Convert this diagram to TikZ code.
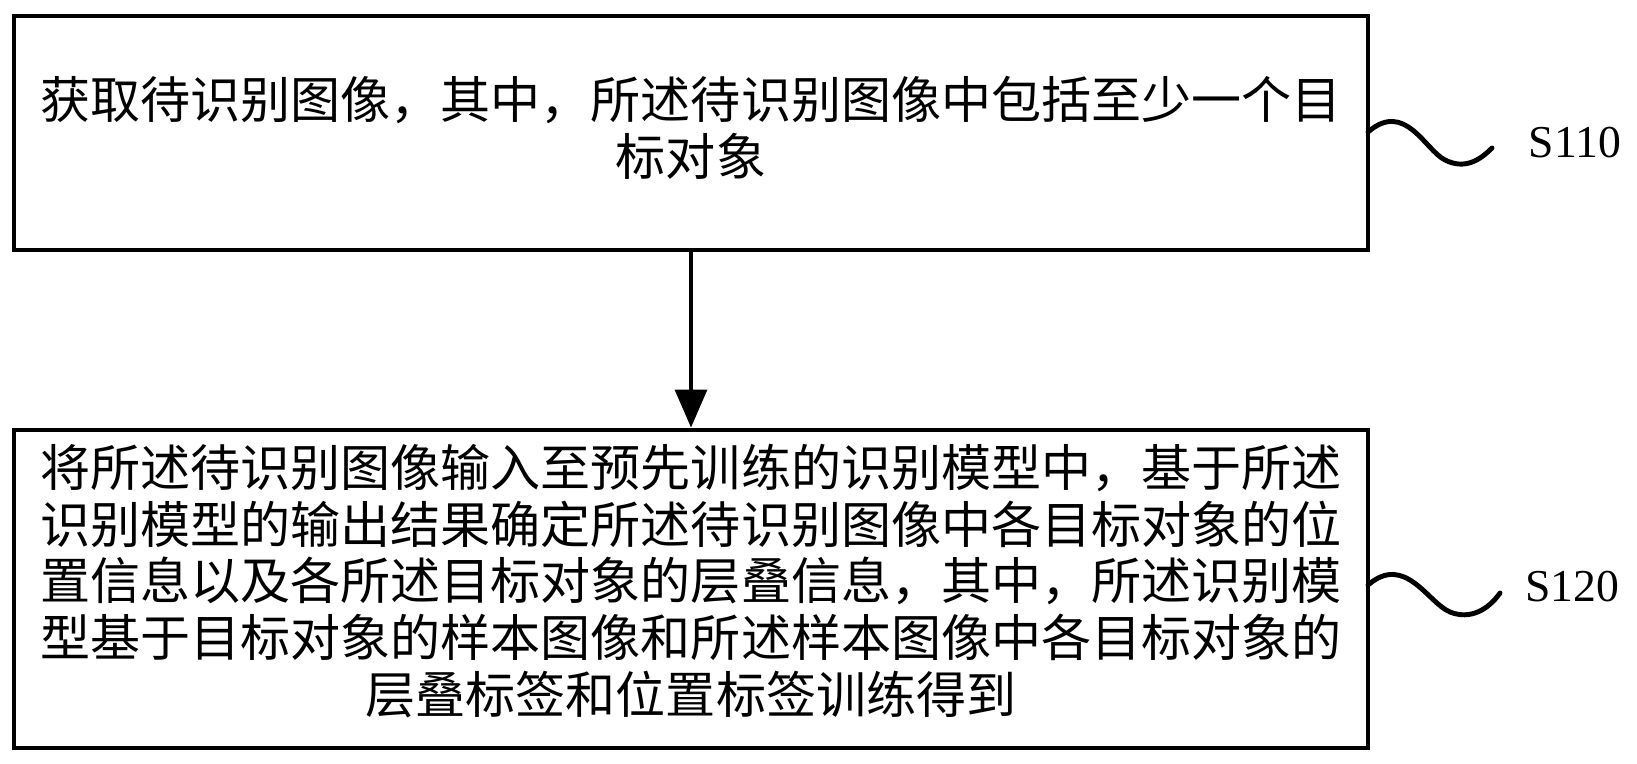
\documentclass[tikz,border=0pt]{standalone}
\usepackage{fontspec}
\newfontfamily\cjk{Noto Sans CJK SC}
\setmainfont{Liberation Serif}
\usetikzlibrary{arrows.meta}
\begin{document}
\begin{tikzpicture}[x=0.02cm,y=-0.02cm,>={Triangle[length=38*0.02cm,width=32*0.02cm]},
  stepbox/.style={draw,line width=2.8pt,minimum width=1354*0.02cm,inner sep=0pt},
  steptext/.style={align=center,font=\cjk\fontsize{28.5}{32.3}\selectfont},
  steplabel/.style={font=\fontsize{26}{30}\selectfont},
  wave/.style={line width=2.8pt,line cap=round}]
\useasboundingbox (0,0) rectangle (1637,764);
\node[stepbox,minimum height=234*0.02cm] (s110) at (691,133) {};
\node[steptext] (t110) at (691,128)
  {获取待识别图像，其中，所述待识别图像中包括至少一个目\\标对象};
\node[stepbox,minimum height=318*0.02cm] (s120) at (691,589) {};
\node[steptext] (t120) at (691,581)
  {将所述待识别图像输入至预先训练的识别模型中，基于所述\\识别模型的输出结果确定所述待识别图像中各目标对象的位\\置信息以及各所述目标对象的层叠信息，其中，所述识别模\\型基于目标对象的样本图像和所述样本图像中各目标对象的\\层叠标签和位置标签训练得到};
\draw[->,line width=2pt] (s110) -- (s120);
\node[steplabel] (l110) at (1575,143) {S110};
\node[steplabel] (l120) at (1572,587) {S120};
\draw[wave] (1368,132) .. controls (1405,100) and (1425,150) .. (1445,160)
  .. controls (1465,170) and (1480,160) .. (1492,148);
\draw[wave] (1368,585) .. controls (1405,553) and (1428,603) .. (1450,612)
  .. controls (1470,620) and (1488,610) .. (1500,593);
\end{tikzpicture}
\end{document}
